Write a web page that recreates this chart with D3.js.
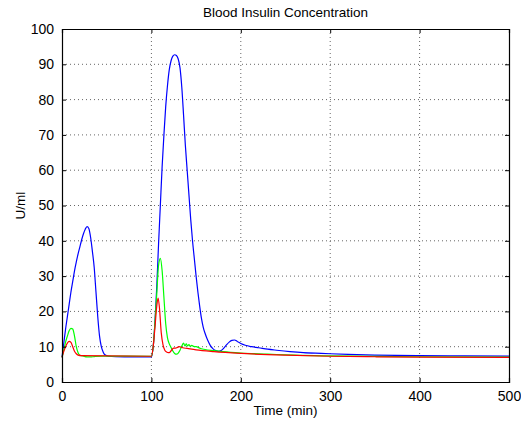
<!DOCTYPE html>
<html>
<head>
<meta charset="utf-8">
<script src="https://cdn.jsdelivr.net/npm/d3@7"></script>
<style>
  body { margin: 0; background: #fff; }
  text { font-family: "Liberation Sans", Arial, sans-serif; }
</style>
</head>
<body>
<svg id="chart" width="521" height="421"></svg>
<script>
// data: [time (min), insulin]
const blueSeries = [
  [0,7],[2,11],[4,15],[6,18.5],[8,22],[10,25.5],[12,28.5],[14,31.5],[16,34],[18,36.3],
  [20,38.3],[22,40.3],[24,42],[26,43.3],[28,44],[30,43.5],[32,41],[34,37],[36,32.5],[38,25.5],
  [40,18.5],[42,13],[44,10],[46,8.5],[48,7.7],[52,7.3],[60,7.15],[80,7.1],[100,7.1],
  [102,10],[104,17],[106,27],[108,39],[110,50],[112,61],[114,70],[116,78],[118,84],
  [120,88.5],[122,91],[124,92.3],[126,92.7],[128,92.5],[130,91.5],[132,89],[134,83.5],
  [136,75.5],[138,67],[140,60],[142,53],[144,46],[146,40],[148,35],[150,30],[152,25.5],
  [154,21.5],[156,18],[158,15.5],[160,13.8],[163,11.8],[166,10.3],[169,9.4],[172,8.9],
  [175,8.7],[178,8.9],[181,9.6],[184,10.5],[187,11.3],[190,11.8],[193,11.9],[196,11.5],
  [200,10.9],[205,10.4],[212,10],[220,9.7],[230,9.3],[240,9],[255,8.6],[270,8.3],
  [290,8.1],[320,7.8],[350,7.6],[400,7.45],[450,7.4],[500,7.35]
];
const greenSeries = [
  [0,7],[2,9],[4,11.3],[6,13],[8,14.5],[10,15.2],[12,15],[14,13],[16,10],[18,8.3],
  [20,7.6],[24,7.3],[28,7.1],[32,7.1],[36,7.2],[45,7.35],[100,7.3],
  [102,10],[104,17],[106,25],[108,33],[110,35],[112,31.5],[114,24],[116,16.5],[118,12.5],
  [120,10.8],[122,9.8],[124,8.8],[126,8.1],[128,7.9],[130,8.2],[132,9],[134,10.2],
  [136,11],[137.5,10.2],[139,10.8],[140.5,10.2],[142,10.6],[143.5,10.1],[145,10.4],
  [147,10.1],[150,10],[155,9.5],[160,9.2],[170,8.9],[180,8.6],[200,8.2],[230,7.9],
  [260,7.6],[300,7.4],[350,7.25],[400,7.15],[500,7.05]
];
const redSeries = [
  [0,7],[2,8.7],[4,10],[6,11],[8,11.5],[10,11.2],[12,10],[14,8.7],[16,8],[18,7.6],
  [22,7.45],[100,7.3],
  [102,10],[104,15.5],[106,21.5],[107.5,23.8],[109,21],[111,14],[113,10.5],[115,9],
  [117,8.5],[119,8.3],[121,8.5],[123,9.2],[125,9.6],[127,9.6],[129,9.8],[131,10],
  [135,9.7],[140,9.5],[150,9.1],[170,8.6],[200,8.1],[250,7.6],[300,7.3],[350,7.15],
  [400,7.05],[500,7.0]
];
const xTicks = [0, 100, 200, 300, 400, 500];
const yTicks = [0, 10, 20, 30, 40, 50, 60, 70, 80, 90, 100];

const margin = {top: 29, right: 12, bottom: 39, left: 62},
    width = 521 - margin.left - margin.right,
    height = 421 - margin.top - margin.bottom;

const svg = d3.select('#chart')
  .append('g')
  .attr('transform', `translate(${margin.left},${margin.top})`);

const x = d3.scaleLinear().domain([0, 500]).range([0, width]);
const y = d3.scaleLinear().domain([0, 100]).range([height, 0]);

// grid
const grid = svg.append('g').attr('class', 'grid');
grid.selectAll('.vgrid')
  .data(xTicks.slice(1, -1))
  .enter().append('line')
  .attr('x1', d => x(d)).attr('x2', d => x(d))
  .attr('y1', 0).attr('y2', height)
  .style('stroke', '#666').style('stroke-width', 1)
  .style('stroke-dasharray', '1,3');
grid.selectAll('.hgrid')
  .data(yTicks.slice(1, -1))
  .enter().append('line')
  .attr('x1', 0).attr('x2', width)
  .attr('y1', d => y(d)).attr('y2', d => y(d))
  .style('stroke', '#666').style('stroke-width', 1)
  .style('stroke-dasharray', '1,3');

// lines
const line = d3.line()
  .x(d => x(d[0]))
  .y(d => y(d[1]))
  .curve(d3.curveMonotoneX);

[[blueSeries, '#0000ff'], [greenSeries, '#00ff00'], [redSeries, '#ff0000']].forEach(([s, c]) => {
  svg.append('path')
    .attr('d', line(s))
    .style('fill', 'none')
    .style('stroke', c)
    .style('stroke-width', 1.2);
});

// axes (ticks pointing inwards, box all round)
svg.append('g')
  .attr('transform', `translate(0,${height})`)
  .call(d3.axisBottom(x).tickValues(xTicks).tickSize(-4).tickPadding(9));
svg.append('g')
  .call(d3.axisLeft(y).tickValues(yTicks).tickSize(-4).tickPadding(8));
svg.append('g')
  .call(d3.axisTop(x).tickValues(xTicks).tickSize(-4).tickFormat(''));
svg.append('g')
  .attr('transform', `translate(${width},0)`)
  .call(d3.axisRight(y).tickValues(yTicks).tickSize(-4).tickFormat(''));

svg.selectAll('.domain').style('stroke', '#000').style('stroke-width', 1.2);
svg.selectAll('.tick line').style('stroke', '#000');
svg.selectAll('.tick text')
  .style('font-size', '14px')
  .style('fill', '#000');

// title and labels
svg.append('text')
  .attr('x', width / 2)
  .attr('y', -12)
  .attr('text-anchor', 'middle')
  .style('font-size', '13.5px')
  .text('Blood Insulin Concentration');

svg.append('text')
  .attr('x', width / 2)
  .attr('y', height + 33)
  .attr('text-anchor', 'middle')
  .style('font-size', '13.5px')
  .text('Time (min)');

svg.append('text')
  .attr('transform', `translate(${-37},${height / 2}) rotate(-90)`)
  .attr('text-anchor', 'middle')
  .style('font-size', '13.5px')
  .text('U/ml');
</script>
</body>
</html>
